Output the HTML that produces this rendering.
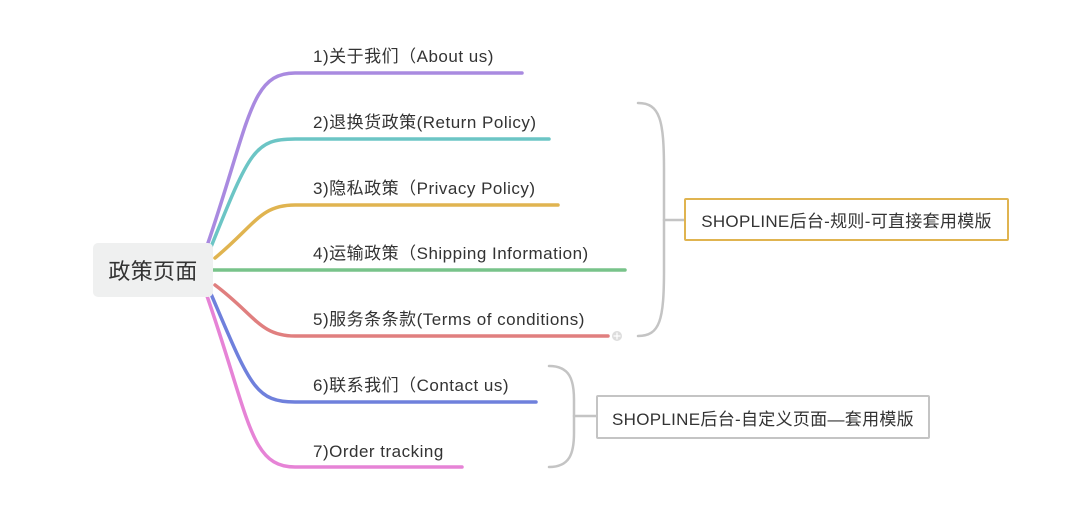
<!DOCTYPE html>
<html><head><meta charset="utf-8"><style>
body{margin:0;background:#fff;width:1065px;height:525px;overflow:hidden;position:relative;font-family:"Liberation Sans","Noto Sans CJK SC",sans-serif;color:#333}
.t{position:absolute;font-size:17px;left:313px;white-space:nowrap;line-height:20px;letter-spacing:0.5px}
.box{position:absolute;box-sizing:border-box;font-size:17px;display:flex;align-items:center;justify-content:center;white-space:nowrap;background:#fff;letter-spacing:0.3px}
</style></head><body>
<svg width="1065" height="525" style="position:absolute;left:0;top:0" fill="none" stroke-linecap="round">
<g stroke-width="3.5">
<path d="M207,246 C250,120 250,73 295,73 L522,73" stroke="#a98ae0"/>
<path d="M211,247 C250,150 255,139 295,139 L549,139" stroke="#6cc5c5"/>
<path d="M215,258 C255,225 260,205 295,205 L558,205" stroke="#e0b450"/>
<path d="M213,270 L625,270" stroke="#78c38a"/>
<path d="M215,285 C255,315 260,336 295,336 L608,336" stroke="#e07f7f"/>
<path d="M211,294 C250,385 255,402 295,402 L536,402" stroke="#6f80dc"/>
<path d="M207,296 C250,420 250,467 295,467 L462,467" stroke="#e683d6"/>
</g>
<g stroke="#c4c4c4" stroke-width="2.5">
<path d="M638,103 C660,103 664,120 664,170 L664,270 C664,320 660,336 638,336"/>
<path d="M664,220 L684,220"/>
<path d="M549,366 C570,366 574,380 574,400 L574,433 C574,453 570,467 549,467"/>
<path d="M574,416 L596,416"/>
</g>
<circle cx="617" cy="336" r="5" fill="#ddd"/>
<path d="M614,336h6M617,333v6" stroke="#fff" stroke-width="1.2"/>
</svg>
<div class="box" style="left:93px;top:243px;width:120px;height:54px;background:#eff0f0;border-radius:5px;font-size:22px;color:#333">政策页面</div>
<div class="t" style="top:47px">1)关于我们（About us)</div>
<div class="t" style="top:113px">2)退换货政策(Return Policy)</div>
<div class="t" style="top:179px">3)隐私政策（Privacy Policy)</div>
<div class="t" style="top:244px">4)运输政策（Shipping Information)</div>
<div class="t" style="top:310px">5)服务条条款(Terms of conditions)</div>
<div class="t" style="top:376px">6)联系我们（Contact us)</div>
<div class="t" style="top:442px">7)Order tracking</div>
<div class="box" style="left:684px;top:198px;width:325px;height:43px;border:2px solid #e0b450;border-radius:2px">SHOPLINE后台-规则-可直接套用模版</div>
<div class="box" style="left:596px;top:395px;width:334px;height:44px;border:2px solid #c4c4c4;border-radius:2px">SHOPLINE后台-自定义页面—套用模版</div>
</body></html>
